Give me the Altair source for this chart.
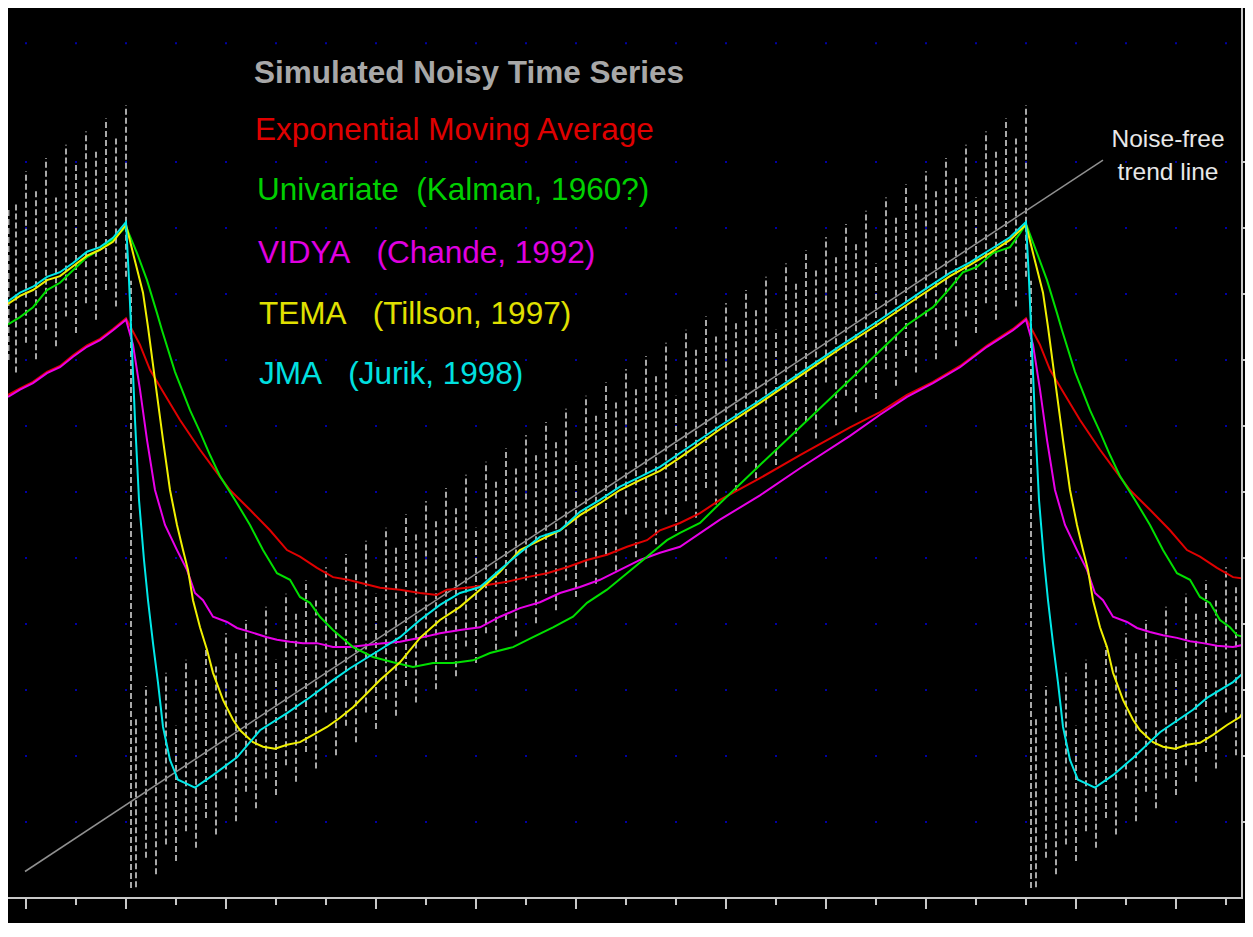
import altair as alt
import pandas as pd
from itertools import product

# ---- series values (t = bar index, v = price units) ----
JMA = [(-3.6, 88.9), (-1.2, 90.2), (1.4, 91.1), (4.2, 92.6), (6.8, 93.3), (9.4, 94.7), (12.2, 96.4), (14.8, 97.1),
       (17.4, 98.5), (20.0, 100.9), (20.6, 92.1), (21.2, 81.5), (21.8, 70.9), (22.6, 58.8), (23.6, 49.7), (24.4, 43.6),
       (25.4, 37.1), (26.4, 31.1), (27.4, 24.4), (28.8, 19.4), (30.4, 16.4), (33.8, 15.2), (37.4, 17.1), (42.2, 19.8),
       (46.8, 23.9), (52.2, 26.5), (56.8, 28.9), (61.4, 31.5), (64.8, 33.3), (70.8, 36.1), (74.8, 38.0), (78.8, 40.6),
       (82.8, 42.9), (86.8, 44.7), (90.8, 45.6), (94.8, 48.2), (98.8, 50.8), (102.8, 53.2), (106.8, 54.2), (110.8, 57.0),
       (114.8, 58.8), (118.8, 60.8), (122.8, 62.3), (126.8, 63.8), (130.8, 65.9), (138.8, 70.0), (146.8, 73.9),
       (154.8, 78.0), (162.8, 82.1), (170.8, 86.1), (178.8, 90.2), (184.8, 93.2), (188.8, 94.8), (192.8, 96.7),
       (196.8, 98.6), (200.0, 100.9), (200.6, 92.1), (201.2, 81.5), (201.8, 70.9), (202.6, 58.8), (203.6, 49.7),
       (204.4, 43.6), (205.4, 37.1), (206.4, 31.1), (207.4, 24.4), (208.8, 19.4), (210.4, 16.4), (213.8, 15.2),
       (217.4, 17.1), (221.4, 19.7), (226.8, 23.6), (233.4, 27.0), (236.2, 28.8), (241.4, 31.2), (245.0, 33.6)]

TEMA = [(-3.6, 88.5), (-1.2, 89.7), (1.4, 90.6), (4.2, 92.1), (6.8, 92.7), (9.4, 94.2), (12.2, 95.8), (14.8, 96.7),
        (17.4, 97.9), (20.0, 100.5), (21.4, 96.2), (23.4, 90.2), (24.4, 85.0), (25.8, 77.0), (27.4, 67.9), (28.8, 60.3),
        (30.2, 55.0), (31.4, 51.2), (32.4, 48.2), (33.4, 43.6), (34.8, 39.5), (36.2, 36.1), (37.4, 32.6), (39.4, 28.5),
        (41.4, 25.5), (42.8, 23.9), (45.4, 22.1), (47.4, 21.4), (49.8, 21.1), (52.2, 21.7), (54.8, 22.1), (57.4, 23.2),
        (60.2, 24.4), (62.8, 25.8), (65.4, 27.4), (68.2, 29.5), (70.8, 31.5), (74.8, 34.2), (78.8, 37.9), (82.8, 40.6),
        (86.8, 42.6), (90.8, 45.2), (94.8, 47.9), (98.8, 51.2), (102.8, 52.7), (106.8, 54.2), (110.8, 56.5),
        (114.8, 58.3), (118.8, 60.3), (122.8, 61.8), (126.8, 63.2), (130.8, 65.2), (138.8, 69.5), (146.8, 73.5),
        (154.8, 77.6), (162.8, 81.7), (170.8, 85.6), (178.8, 89.7), (184.8, 92.7), (188.8, 94.4), (192.8, 96.2),
        (196.8, 98.2), (200.0, 100.5), (201.4, 96.2), (203.4, 90.2), (204.4, 85.0), (205.8, 77.0), (207.4, 67.9),
        (208.8, 60.3), (210.2, 55.0), (211.4, 51.2), (212.4, 48.2), (213.4, 43.6), (214.8, 39.5), (216.2, 36.5),
        (217.4, 32.6), (219.4, 28.5), (221.4, 25.5), (222.8, 23.9), (225.4, 22.1), (227.4, 21.4), (229.8, 21.1),
        (232.2, 21.7), (234.8, 22.0), (237.4, 23.2), (240.2, 24.7), (242.8, 25.9), (244.4, 27.9), (245.0, 28.3)]

KALMAN = [(-3.6, 85.4), (-1.2, 86.5), (1.4, 88.0), (4.2, 90.6), (6.8, 91.7), (9.4, 93.6), (12.2, 95.6), (14.8, 96.7),
          (17.4, 98.2), (20.0, 100.2), (22.2, 96.2), (24.2, 92.1), (26.2, 87.1), (27.2, 84.5), (29.8, 78.2),
          (32.8, 72.4), (34.8, 69.1), (36.8, 65.6), (38.8, 62.4), (41.8, 58.8), (44.8, 55.0), (47.4, 51.2),
          (50.2, 47.7), (52.8, 46.7), (54.8, 44.1), (56.8, 43.2), (58.8, 41.1), (61.4, 39.1), (65.4, 36.5),
          (69.4, 35.0), (73.4, 34.2), (77.4, 33.5), (81.4, 34.1), (85.4, 34.1), (89.4, 34.5), (92.8, 35.6),
          (97.4, 36.5), (101.4, 38.0), (105.4, 39.5), (109.4, 41.1), (112.2, 43.2), (116.2, 45.2), (120.2, 47.7),
          (124.2, 50.2), (128.2, 52.7), (130.8, 53.8), (134.8, 55.3), (138.8, 58.3), (146.8, 64.1), (154.8, 69.8),
          (164.8, 77.0), (170.8, 81.4), (176.2, 85.3), (181.4, 88.0), (184.8, 90.9), (187.4, 93.3), (190.2, 94.1),
          (193.4, 96.2), (196.8, 97.1), (198.8, 99.2), (200.0, 100.6), (202.2, 96.2), (204.2, 92.1), (206.2, 87.1),
          (207.2, 84.5), (209.8, 78.2), (212.8, 72.4), (214.8, 69.1), (216.8, 65.6), (218.8, 62.4), (221.8, 58.8),
          (224.8, 55.0), (227.4, 51.2), (230.2, 47.7), (232.8, 46.7), (234.8, 44.1), (236.8, 43.2), (238.8, 40.6),
          (240.8, 39.5), (242.2, 38.3), (244.4, 37.9), (245.0, 37.6)]

EMA = [(-3.6, 74.7), (-1.2, 75.7), (1.4, 76.7), (4.2, 78.2), (6.8, 79.1), (9.4, 80.7), (12.2, 82.2), (14.8, 83.2),
       (17.4, 84.7), (20.0, 86.3), (22.8, 82.3), (24.8, 78.5), (27.8, 74.7), (30.8, 70.9), (34.8, 66.4), (37.8, 63.3),
       (40.8, 60.3), (44.8, 57.3), (48.8, 54.2), (52.2, 51.2), (54.8, 50.2), (58.2, 48.5), (61.4, 47.1), (64.4, 46.7),
       (70.8, 45.5), (74.8, 45.2), (78.8, 44.7), (82.2, 44.4), (84.2, 45.2), (88.2, 45.5), (92.2, 45.9), (96.2, 46.4),
       (100.2, 47.1), (104.2, 47.7), (108.2, 48.6), (112.2, 49.7), (116.2, 50.5), (120.2, 51.7), (124.2, 52.7),
       (126.8, 54.2), (130.8, 55.3), (134.8, 56.8), (138.8, 58.8), (146.8, 62.1), (154.8, 65.6), (164.8, 69.8),
       (170.8, 72.1), (176.2, 74.7), (181.4, 76.7), (186.8, 79.1), (192.2, 82.2), (197.4, 84.7), (200.0, 86.3),
       (202.8, 82.3), (204.8, 78.5), (207.8, 74.7), (210.8, 70.9), (214.8, 66.4), (217.8, 63.3), (220.8, 60.3),
       (224.8, 57.3), (228.8, 54.2), (232.2, 51.2), (234.8, 50.2), (238.2, 48.5), (241.4, 47.1), (244.4, 46.8),
       (245.0, 46.7)]

VIDYA = [(-3.6, 74.4), (-1.2, 75.5), (1.4, 76.5), (4.2, 78.0), (6.8, 78.9), (9.4, 80.5), (12.2, 82.0), (14.8, 83.0),
         (17.4, 84.5), (20.0, 86.1), (21.4, 82.3), (22.8, 75.5), (24.2, 67.9), (25.8, 60.3), (27.8, 55.0), (30.2, 51.2),
         (32.2, 48.2), (33.8, 44.7), (35.4, 43.6), (37.4, 41.1), (40.2, 40.3), (42.2, 39.4), (44.8, 38.8), (48.2, 38.0),
         (50.2, 37.6), (52.8, 37.3), (55.4, 37.1), (58.2, 37.1), (61.4, 36.5), (64.8, 36.5), (68.2, 36.8), (71.4, 37.1),
         (74.8, 37.3), (78.8, 37.9), (82.8, 38.6), (86.8, 39.1), (90.8, 39.5), (94.8, 41.1), (98.8, 42.4), (102.8, 43.3),
         (106.8, 44.7), (110.8, 45.6), (114.8, 46.7), (118.8, 48.2), (122.8, 49.7), (126.8, 50.8), (130.8, 51.7),
         (138.8, 55.8), (146.8, 59.5), (154.8, 63.6), (164.8, 68.5), (170.8, 71.7), (176.2, 74.4), (181.4, 76.5),
         (186.8, 78.9), (192.2, 82.0), (197.4, 84.5), (200.0, 86.1), (201.4, 82.3), (202.8, 75.5), (204.2, 67.9),
         (205.8, 60.3), (207.8, 55.0), (210.2, 51.2), (212.2, 48.2), (213.8, 44.7), (215.4, 43.6), (217.4, 41.1),
         (220.2, 40.3), (222.2, 39.4), (224.8, 38.8), (227.4, 38.3), (230.2, 37.9), (232.8, 37.4), (235.4, 37.1),
         (238.2, 36.7), (241.4, 36.5), (244.4, 37.0), (245.0, 37.0)]

TREND = [(-0.2, 2.5), (215.4, 110.3)]

# noisy series: (t, low, high) of each near-vertical dashed stroke
NOISE = [(-3.5, 80.0, 103.0), (-2, 78.1, 103.6), (0, 82.6, 108.6), (2, 80.1, 105.6), (4, 84.6, 110.6), (6, 82.1, 104.6),
         (8, 86.6, 112.6), (10, 84.1, 109.6), (12, 88.6, 114.6), (14, 86.1, 111.6), (16, 90.6, 116.6),
         (18, 88.1, 113.6), (20, 92.6, 118.6), (21, 0.0, 92.0),
         (22, 0.1, 25.6), (24, 4.6, 30.6), (26, 2.1, 27.6), (28, 6.6, 32.6), (30, 4.1, 24.6), (32, 8.6, 34.6),
         (34, 6.1, 31.6), (36, 10.6, 36.6), (38, 8.1, 33.6), (40, 16.6, 38.6), (42, 10.1, 35.6), (44, 14.6, 40.6),
         (46, 12.1, 37.6), (48, 16.6, 42.6), (50, 14.1, 34.6), (52, 18.6, 44.6), (54, 16.1, 41.6), (56, 20.6, 46.6),
         (58, 18.1, 43.6), (60, 26.6, 48.6), (62, 20.1, 45.6), (64, 24.6, 50.6), (66, 22.1, 47.6), (68, 26.6, 52.6),
         (70, 24.1, 44.6), (72, 28.6, 54.6), (74, 26.1, 51.6), (76, 30.6, 56.6), (78, 28.1, 53.6), (80, 36.6, 58.6),
         (82, 30.1, 55.6), (84, 34.6, 60.6), (86, 32.1, 57.6), (88, 36.6, 62.6), (90, 34.1, 54.6), (92, 38.6, 64.6),
         (94, 36.1, 61.6), (96, 40.6, 66.6), (98, 38.1, 63.6), (100, 46.6, 68.6), (102, 40.1, 65.6), (104, 44.6, 70.6),
         (106, 42.1, 67.6), (108, 46.6, 72.6), (110, 44.1, 64.6), (112, 48.6, 74.6), (114, 46.1, 71.6),
         (116, 50.6, 76.6), (118, 48.1, 73.6), (120, 56.6, 78.6), (122, 50.1, 75.6), (124, 54.6, 80.6),
         (126, 52.1, 77.6), (128, 56.6, 82.6), (130, 54.1, 74.6), (132, 58.6, 84.6), (134, 56.1, 81.6),
         (136, 60.6, 86.6), (138, 58.1, 83.6), (140, 66.6, 88.6), (142, 60.1, 85.6), (144, 64.6, 90.6),
         (146, 62.1, 87.6), (148, 66.6, 92.6), (150, 64.1, 84.6), (152, 68.6, 94.6), (154, 66.1, 91.6),
         (156, 70.6, 96.6), (158, 68.1, 93.6), (160, 76.6, 98.6), (162, 70.1, 95.6), (164, 74.6, 100.6),
         (166, 72.1, 97.6), (168, 76.6, 102.6), (170, 74.1, 94.6), (172, 78.6, 104.6), (174, 76.1, 101.6),
         (176, 80.6, 106.6), (178, 78.1, 103.6), (180, 86.6, 108.6), (182, 80.1, 105.6), (184, 84.6, 110.6),
         (186, 82.1, 107.6), (188, 86.6, 112.6), (190, 84.1, 104.6), (192, 88.6, 114.6), (194, 86.1, 111.6),
         (196, 90.6, 116.6), (198, 88.1, 113.6), (200, 92.6, 118.6), (201, 0.0, 92.0),
         (202, 0.1, 25.6), (204, 4.6, 30.6), (206, 2.1, 27.6), (208, 6.6, 32.6), (210, 4.1, 24.6), (212, 8.6, 34.6),
         (214, 6.1, 31.6), (216, 10.6, 36.6), (218, 8.1, 33.6), (220, 16.6, 38.6), (222, 10.1, 35.6),
         (224, 14.6, 40.6), (226, 12.1, 37.6), (228, 16.6, 42.6), (230, 14.1, 34.6), (232, 18.6, 44.6),
         (234, 16.1, 41.6), (236, 20.6, 46.6), (238, 18.1, 43.6), (240, 26.6, 48.6), (242, 20.1, 45.6)]

GRID_T = [0, 10, 20, 30, 40, 50, 60, 70, 80, 90, 100, 110, 120, 130, 140, 150, 160, 170, 180, 190, 200, 210, 220,
          230, 240]
GRID_V = [10, 20, 30, 40, 50, 60, 70, 80, 90, 100, 110, 128]
RIGHT_TICKS = [10, 20, 30, 40, 50, 60, 70, 80, 90, 100, 110]
LONG_TICKS = [0, 20, 40, 70, 90, 110, 140, 160, 180, 210, 230]
SHORT_TICKS = [10, 30, 50, 60, 80, 100, 120, 130, 150, 170, 190, 200, 220, 240]

NBSP = "\u00a0"
LEGEND_TEXT = ["Exponential Moving Average",
               "Univariate" + NBSP * 2 + "(Kalman, 1960?)",
               "VIDYA" + NBSP * 3 + "(Chande, 1992)",
               "TEMA" + NBSP * 3 + "(Tillson, 1997)",
               "JMA" + NBSP * 3 + "(Jurik, 1998)"]
LEGEND_COLOR = ["#e00000", "#00d000", "#e000e0", "#e0e000", "#00e0e0"]
LEGEND_T = [45.8, 46.2, 46.4, 46.6, 46.6]
LEGEND_V = [113.3, 104.3, 94.7, 85.4, 76.3]
TITLE_TEXT = ["Simulated Noisy Time Series"]
TITLE_T = [45.6]
TITLE_V = [122.0]
NOTE_TEXT = ["Noise-free", "trend line"]
NOTE_T = [228.4, 228.4]
NOTE_V = [112.2, 107.3]

# ---- chart ----
W, H = 1235, 890
xsc = alt.Scale(domain=[-3.6, 243.4], nice=False, zero=False)
ysc = alt.Scale(domain=[-1.515, 133.33], nice=False, zero=False)
X = lambda: alt.X("t:Q", scale=xsc, axis=None)
Y = lambda f="v": alt.Y(f + ":Q", scale=ysc, axis=None)
FRAME = "#c8c8c8"

dots_df = pd.DataFrame(list(product(GRID_T, GRID_V)), columns=["t", "v"])
dots = alt.Chart(dots_df).mark_square(size=4, color="#0000a8", opacity=1).encode(x=X(), y=Y())

frame_df = pd.DataFrame({"k": [0]})
bottom_line = alt.Chart(frame_df).mark_rule(color=FRAME, strokeWidth=2).encode(
    x=alt.value(0), x2=alt.value(W), y=alt.value(H))
right_line = alt.Chart(frame_df).mark_rule(color=FRAME, strokeWidth=2).encode(
    x=alt.value(W - 1), y=alt.value(0), y2=alt.value(H + 1))
right_ticks = alt.Chart(pd.DataFrame({"v": RIGHT_TICKS})).mark_rule(color=FRAME, strokeWidth=2).encode(
    y=Y(), x=alt.value(W - 1), x2=alt.value(W + 2))
ticks_long = alt.Chart(pd.DataFrame({"t": LONG_TICKS})).mark_rule(color=FRAME, strokeWidth=2).encode(
    x=X(), y=alt.value(H + 1), y2=alt.value(H + 11))
ticks_short = alt.Chart(pd.DataFrame({"t": SHORT_TICKS})).mark_rule(color=FRAME, strokeWidth=2).encode(
    x=X(), y=alt.value(H + 1), y2=alt.value(H + 7))

noise_df = pd.DataFrame(NOISE, columns=["t", "lo", "hi"])
noise = alt.Chart(noise_df).mark_rule(color="#a8a8a8", strokeWidth=2, strokeDash=[6, 3], clip=True).encode(
    x=X(), y=Y("lo"), y2="hi:Q")


def line_layer(pairs, color, width=2.0):
    df = pd.DataFrame(pairs, columns=["t", "v"])
    return alt.Chart(df).mark_line(color=color, strokeWidth=width, clip=True).encode(x=X(), y=Y())


trend = line_layer(TREND, "#909090", 1.5)
ema = line_layer(EMA, "#e00000")
vidya = line_layer(VIDYA, "#e800e8")
kalman = line_layer(KALMAN, "#00e000")
tema = line_layer(TEMA, "#f0f000")
jma = line_layer(JMA, "#00e8e8")

legend_df = pd.DataFrame({"label": LEGEND_TEXT, "color": LEGEND_COLOR, "t": LEGEND_T, "v": LEGEND_V})
legend = alt.Chart(legend_df).mark_text(align="left", baseline="alphabetic", font="Liberation Sans",
                                        fontSize=31.5).encode(
    x=X(), y=Y(), text="label:N", color=alt.Color("color:N", scale=None))
title_df = pd.DataFrame({"label": TITLE_TEXT, "t": TITLE_T, "v": TITLE_V})
title = alt.Chart(title_df).mark_text(align="left", baseline="alphabetic", font="Liberation Sans",
                                      fontSize=31.5, fontWeight="bold", color="#a8a8a8").encode(
    x=X(), y=Y(), text="label:N")
note_df = pd.DataFrame({"label": NOTE_TEXT, "t": NOTE_T, "v": NOTE_V})
note = alt.Chart(note_df).mark_text(align="center", baseline="alphabetic", font="Liberation Sans",
                                    fontSize=24.5, color="#e8e8e8").encode(
    x=X(), y=Y(), text="label:N")

chart = alt.layer(dots, noise, trend, ema, vidya, kalman, tema, jma,
                  bottom_line, right_line, right_ticks, ticks_long, ticks_short,
                  title, legend, note).properties(
    width=W, height=H,
    autosize=alt.AutoSizeParams(type="none"),
    padding={"left": 0, "top": 0, "right": 2, "bottom": 25},
).configure(background="black").configure_view(strokeWidth=0)

chart.save("out.html", embed_options={"renderer": "svg", "actions": False})
